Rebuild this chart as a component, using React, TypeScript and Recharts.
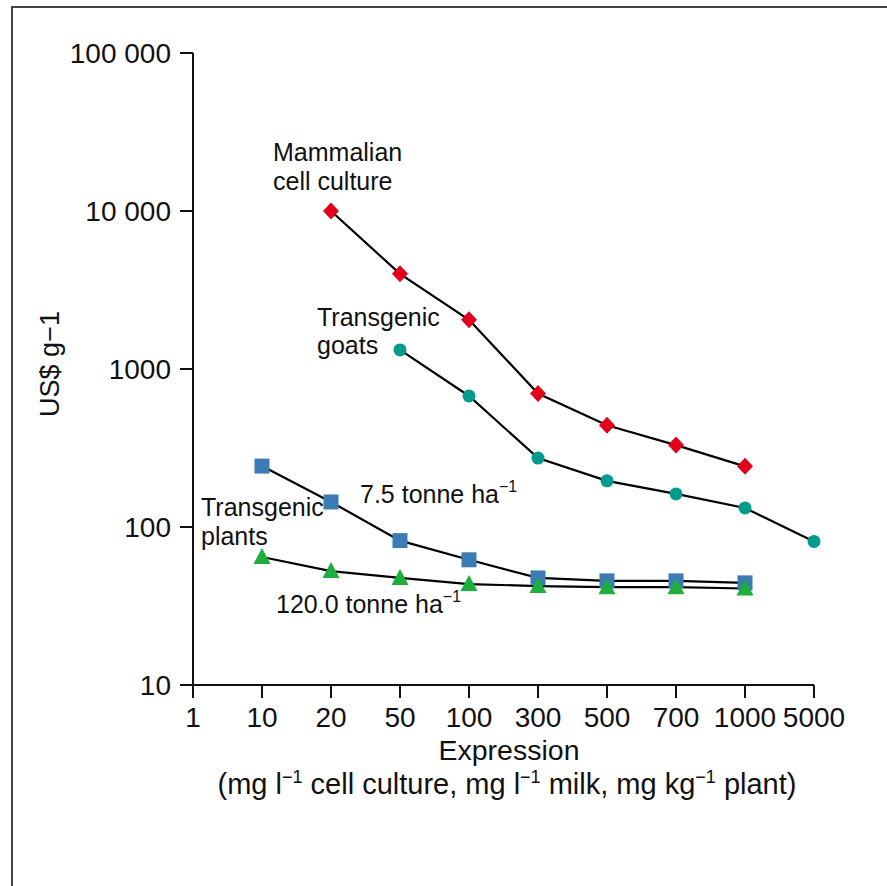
import React from "react";
import { LineChart, Line, XAxis, YAxis, Customized } from "recharts";

// Production cost vs expression level, four production systems, log y axis.

const expression = ["1", "10", "20", "50", "100", "300", "500", "700", "1000", "5000"];
const mammalian = [null, null, 10000, 4000, 2050, 700, 440, 330, 242, null];
const goats = [null, null, null, 1320, 675, 273, 196, 162, 132, 81];
const plants75 = [null, 243, 144, 82, 62, 47.6, 45.6, 45.6, 44.3, null];
const plants120 = [null, 64.6, 52.6, 47.6, 43.5, 42.3, 41.6, 41.6, 40.8, null];
const yTicks = [10, 100, 1000, 10000, 100000];

const FONT = "'Liberation Sans', Arial, sans-serif";
const RED = "#e2001a";
const TEAL = "#009b8b";
const BLUE = "#3b7cb4";
const GREEN = "#1dae3b";

const data = expression.map((x, i) => ({
  x,
  mammalian: mammalian[i],
  goats: goats[i],
  plants75: plants75[i],
  plants120: plants120[i],
}));

// thousands separated by a space, but only from 10 000 up (as in the figure)
const fmt = (v: number) =>
  v >= 10000 ? String(v).replace(/\B(?=(\d{3})+(?!\d))/g, " ") : String(v);

type DotProps = { cx?: number; cy?: number; index?: number; value?: unknown };

const Diamond = ({ cx, cy, index }: DotProps) =>
  cx == null || cy == null ? (
    <g key={index} />
  ) : (
    <path
      key={index}
      d={`M${cx},${cy - 8.5} L${cx + 8},${cy} L${cx},${cy + 8.5} L${cx - 8},${cy} Z`}
      fill={RED}
    />
  );

const Circle = ({ cx, cy, index }: DotProps) =>
  cx == null || cy == null ? <g key={index} /> : <circle key={index} cx={cx} cy={cy} r={6.5} fill={TEAL} />;

const Square = ({ cx, cy, index }: DotProps) =>
  cx == null || cy == null ? (
    <g key={index} />
  ) : (
    <rect key={index} x={cx - 7.5} y={cy - 7.5} width={15} height={15} fill={BLUE} />
  );

const Triangle = ({ cx, cy, index }: DotProps) =>
  cx == null || cy == null ? (
    <g key={index} />
  ) : (
    <path key={index} d={`M${cx},${cy - 9} L${cx + 8.5},${cy + 7} L${cx - 8.5},${cy + 7} Z`} fill={GREEN} />
  );

const Sup = ({ children, size = 18 }: { children: string; size?: number }) => (
  <tspan dy={-11} fontSize={size}>
    {children}
  </tspan>
);

// frame, axis titles and the in-plot annotations
const Annotations = () => (
  <g fontFamily={FONT} fill="#111">
    <path d="M12,886 V7 H887" stroke="#444" strokeWidth={2} fill="none" />
    <text x={50} y={364} fontSize={27} textAnchor="middle" transform="rotate(-90 50 364)" dy="0.35em">
      US$ g−1
    </text>
    <text x={509} y={760} fontSize={28.5} textAnchor="middle">
      Expression
    </text>
    <text x={507} y={794} fontSize={29} textAnchor="middle">
      (mg l<Sup>−1</Sup>
      <tspan dy={11}> cell culture, mg l</tspan>
      <Sup>−1</Sup>
      <tspan dy={11}> milk, mg kg</tspan>
      <Sup>−1</Sup>
      <tspan dy={11}> plant)</tspan>
    </text>
    <text x={273} y={161} fontSize={25}>
      Mammalian
    </text>
    <text x={273} y={190} fontSize={25}>
      cell culture
    </text>
    <text x={317} y={326} fontSize={25}>
      Transgenic
    </text>
    <text x={317} y={354} fontSize={25}>
      goats
    </text>
    <text x={201} y={516} fontSize={25}>
      Transgenic
    </text>
    <text x={201} y={545} fontSize={25}>
      plants
    </text>
    <text x={360} y={503} fontSize={25}>
      7.5 tonne ha<Sup size={16}>−1</Sup>
    </text>
    <text x={276} y={613} fontSize={25}>
      120.0 tonne ha<Sup size={16}>−1</Sup>
    </text>
  </g>
);

export default function App() {
  return (
    <div style={{ position: "absolute", left: 0, top: 0, width: 887, height: 886, background: "#fff" }}>
      <LineChart width={887} height={886} data={data} margin={{ top: 53, right: 73, bottom: 141, left: 0 }}>
        <XAxis
          dataKey="x"
          height={60}
          stroke="#111"
          strokeWidth={2}
          tickSize={13}
          tickMargin={9}
          interval={0}
          tick={{ fontSize: 28, fontFamily: FONT, fill: "#111" }}
        />
        <YAxis
          scale="log"
          domain={[10, 100000]}
          ticks={yTicks}
          tickFormatter={fmt}
          width={193}
          stroke="#111"
          strokeWidth={2}
          tickSize={13}
          tickMargin={9}
          interval={0}
          allowDataOverflow
          tick={{ fontSize: 28, fontFamily: FONT, fill: "#111" }}
        />
        <Line dataKey="mammalian" stroke="#000" strokeWidth={2.2} dot={Diamond} isAnimationActive={false} />
        <Line dataKey="goats" stroke="#000" strokeWidth={2.2} dot={Circle} isAnimationActive={false} />
        <Line dataKey="plants75" stroke="#000" strokeWidth={2.2} dot={Square} isAnimationActive={false} />
        <Line dataKey="plants120" stroke="#000" strokeWidth={2.2} dot={Triangle} isAnimationActive={false} />
        <Customized component={<Annotations />} />
      </LineChart>
    </div>
  );
}
